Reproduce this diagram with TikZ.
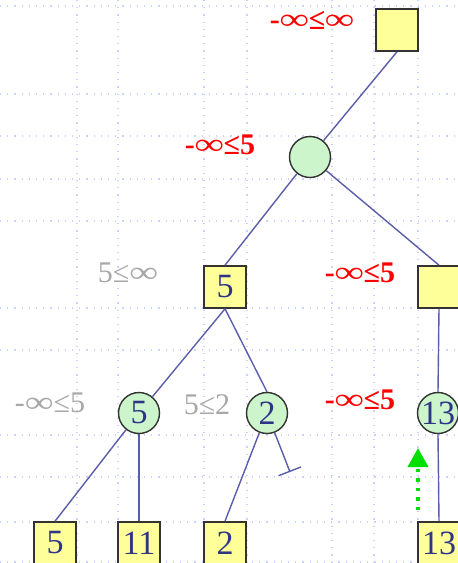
\documentclass[tikz,border=0pt]{standalone}
\usepackage{fontspec}
\setmainfont{Liberation Serif}
\usetikzlibrary{shapes, arrows.meta}
\definecolor{gridblue}{HTML}{C8D2FA}
\definecolor{edgeblue}{HTML}{5A5EA8}
\definecolor{numblue}{HTML}{2E3486}
\definecolor{maxfill}{HTML}{FFFF99}
\definecolor{minfill}{HTML}{CCF5CC}
\definecolor{boundgray}{HTML}{A8A8A8}
\definecolor{hintgreen}{HTML}{00E000}
\newcommand{\winf}{\scalebox{1.35}[1]{∞}}
\tikzstyle{maxnode} = [rectangle, minimum width=42pt, minimum height=42pt, inner sep=0pt, draw=black!80, line width=1.6pt, fill=maxfill, text=numblue, font=\fontsize{34}{34}\selectfont]
\tikzstyle{minnode} = [circle, minimum size=41pt, inner sep=0pt, draw=black!80, line width=1.4pt, fill=minfill, text=numblue, font=\fontsize{34}{34}\selectfont]
\tikzstyle{bound} = [inner sep=0pt, text=boundgray, font=\fontsize{30}{30}\selectfont]
\tikzstyle{livebound} = [inner sep=0pt, text=red, font=\bfseries\fontsize{30}{30}\selectfont]
\tikzstyle{edge} = [edgeblue, line width=1.4pt]
\tikzstyle{gridline} = [gridblue, line width=1.2pt, dash pattern=on 1.2pt off 6pt]
\tikzstyle{hint} = [hintgreen, line width=3.5pt, dash pattern=on 3.5pt off 6pt, -{Triangle[width=20pt, length=19pt]}]

\begin{document}
\begin{tikzpicture}[x=1pt, y=-1pt]
    \fill[white] (0,0) rectangle (458,563);
    \useasboundingbox (0,0) rectangle (458,563);
    % guides
    \foreach \gx in {77,118,204,247,332,374,418}
        \draw [gridline] (\gx,0) -- (\gx,563);
    \foreach \gy in {6,94,136,179,221,308,350,435,477,522,562}
        \draw [gridline] (0,\gy) -- (458,\gy);

    \node (root) [maxnode] at (397,30) {};
    \node (c1) [minnode] at (310,157) {};
    \node (b5) [maxnode] at (225,287) {5};
    \node (bR) [maxnode] at (439,287) {};
    \node (c5) [minnode] at (139,413) {5};
    \node (c2) [minnode] at (267,413) {2};
    \node (c13) [minnode] at (438,413) {13};
    \node (l5) [maxnode] at (55,543) {5};
    \node (l11) [maxnode] at (139,543) {11};
    \node (l2) [maxnode] at (225,543) {2};
    \node (l13) [maxnode] at (439,543) {13};

    % alpha-beta windows
    \node (wroot) [livebound] at (312,20) {-\winf≤\winf};
    \node (wc1) [livebound] at (220,145) {-\winf≤5};
    \node (wb5) [bound] at (128,273) {5≤\winf};
    \node (wbR) [livebound] at (360,273) {-\winf≤5};
    \node (wc5) [bound] at (50,403) {-\winf≤5};
    \node (wc2) [bound] at (207,405) {5≤2};
    \node (wc13) [livebound] at (360,400) {-\winf≤5};

    \coordinate (cut) at (290,472);
    \coordinate (hintfrom) at (418,510);
    \coordinate (hintto) at (418,448);

    \draw [edge] (root.south) -- (c1);
    \draw [edge] (c1) -- (b5.north);
    \draw [edge] (c1) -- (bR.north);
    \draw [edge] (b5.south) -- (c5);
    \draw [edge] (b5.south) -- (c2.north);
    \draw [edge] (bR.south) -- (c13.north);
    \draw [edge] (c5) -- (l5.north);
    \draw [edge] (c5.south) -- (l11.north);
    \draw [edge] (c2) -- (l2.north);
    \draw [edge, -{Bar[width=24pt]}] (c2) -- (cut);
    \draw [edge] (c13.south) -- (l13.north);
    \draw [hint] (hintfrom) -- (hintto);
\end{tikzpicture}
\end{document}
